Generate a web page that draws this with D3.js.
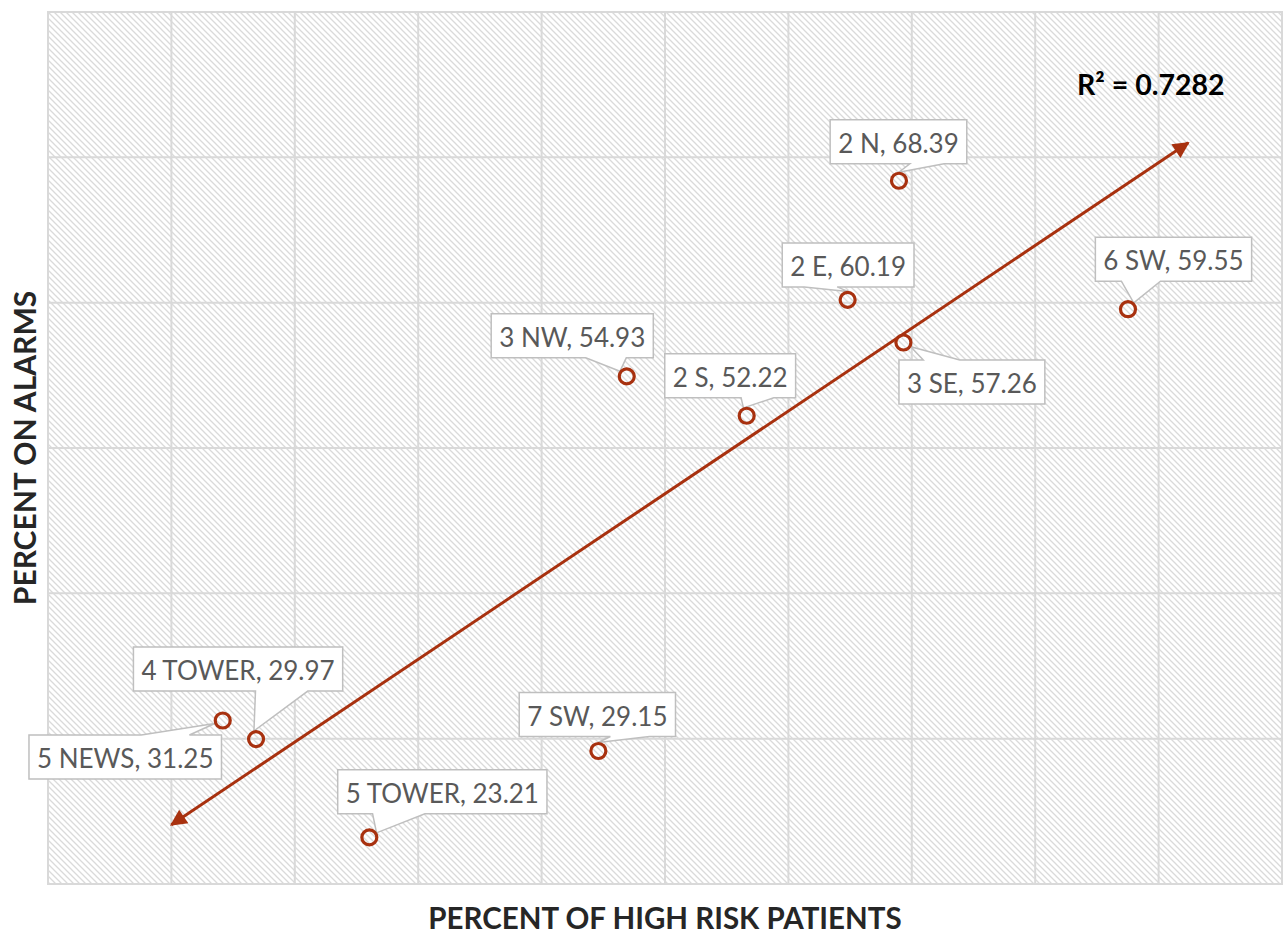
<!DOCTYPE html>
<html>
<head>
<meta charset="utf-8">
<script src="https://cdn.jsdelivr.net/npm/d3@7"></script>
<style>
  html, body { margin: 0; padding: 0; background: #ffffff; }
  svg { display: block; }
</style>
</head>
<body>
<svg id="chart" width="1283" height="934"></svg>
<script>
// Units and their measurements
const units = ["5 NEWS", "4 TOWER", "5 TOWER", "7 SW", "3 NW", "2 S", "2 E", "2 N", "3 SE", "6 SW"];
const highRiskPct = [7.08, 8.43, 13.02, 22.30, 23.45, 28.31, 32.40, 34.48, 34.66, 43.76];
const alarmPct = [31.25, 29.97, 23.21, 29.15, 54.93, 52.22, 60.19, 68.39, 57.26, 59.55];

// Axis ranges and gridline steps
const xDomain = [0, 50];
const xTicks = d3.range(0, 50.001, 5);
const yDomain = [20, 80];
const yTicks = d3.range(20, 80.001, 10);

// Trendline extent (with forecast backward/forward) and its reported fit
const trendRange = [5, 46.2];
const r2Label = "R\u00B2 = 0.7282";

const xTitle = "PERCENT OF HIGH RISK PATIENTS";
const yTitle = "PERCENT ON ALARMS";

// Callout placement: box-centre offset from its point, in pixels
const labelOffsets = [
  [-97.5, 36.5], [-18, -70], [73, -45.5], [-1, -36.5], [-54.5, -40.5],
  [-16.5, -40], [0.5, -35], [-0.5, -39], [68.5, 39.5], [45.5, -50]
];

const svg = d3.select("#chart");
const plot = { left: 48, top: 12, right: 1282, bottom: 884 };
const accent = "#a8310f";
const font = "Lato, 'Open Sans', sans-serif";

const x = d3.scaleLinear().domain(xDomain).range([plot.left, plot.right]);
const y = d3.scaleLinear().domain(yDomain).range([plot.bottom, plot.top]);

const defs = svg.append("defs");
const hatch = defs.append("pattern")
  .attr("id", "hatch").attr("patternUnits", "userSpaceOnUse")
  .attr("width", 6).attr("height", 6);
hatch.append("rect").attr("width", 6).attr("height", 6).attr("fill", "#ffffff");
hatch.append("path")
  .attr("d", "M0,0 L6,6 M-1,5 L1,7 M5,-1 L7,1")
  .attr("stroke", "#dadada").attr("stroke-width", 1.3);

defs.append("marker")
  .attr("id", "arrow")
  .attr("viewBox", "0 0 10 10")
  .attr("refX", 9).attr("refY", 5)
  .attr("markerWidth", 6.5).attr("markerHeight", 5.5)
  .attr("markerUnits", "strokeWidth")
  .attr("orient", "auto-start-reverse")
  .append("path")
  .attr("d", "M0,0 L10,5 L0,10 Z")
  .attr("fill", accent);

// Plot area background
svg.append("rect")
  .attr("x", plot.left).attr("y", plot.top)
  .attr("width", plot.right - plot.left).attr("height", plot.bottom - plot.top)
  .attr("fill", "url(#hatch)");

// Gridlines
const grid = svg.append("g").attr("stroke", "#d9d9d9").attr("stroke-width", 2);
grid.selectAll(".vx").data(xTicks).join("line")
  .attr("x1", d => x(d)).attr("x2", d => x(d))
  .attr("y1", plot.top).attr("y2", plot.bottom);
grid.selectAll(".hy").data(yTicks).join("line")
  .attr("y1", d => y(d)).attr("y2", d => y(d))
  .attr("x1", plot.left).attr("x2", plot.right);
svg.append("rect")
  .attr("x", plot.left).attr("y", plot.top)
  .attr("width", plot.right - plot.left).attr("height", plot.bottom - plot.top)
  .attr("fill", "none").attr("stroke", "#d9d9d9").attr("stroke-width", 2);

// Least-squares trendline
const n = units.length;
const mx = d3.mean(highRiskPct), my = d3.mean(alarmPct);
let sxy = 0, sxx = 0;
for (let i = 0; i < n; i++) {
  sxy += (highRiskPct[i] - mx) * (alarmPct[i] - my);
  sxx += (highRiskPct[i] - mx) ** 2;
}
const slope = sxy / sxx, intercept = my - slope * mx;
svg.append("line")
  .attr("x1", x(trendRange[0])).attr("y1", y(intercept + slope * trendRange[0]))
  .attr("x2", x(trendRange[1])).attr("y2", y(intercept + slope * trendRange[1]))
  .attr("stroke", accent).attr("stroke-width", 3)
  .attr("marker-start", "url(#arrow)")
  .attr("marker-end", "url(#arrow)");

// Wedge-shaped callout (rectangle with a pointer towards the tip)
function calloutPath(l, t, w, h, tx, ty) {
  const r = l + w, b = t + h, hc = l + w / 2, vc = t + h / 2;
  const dx = tx - hc, dy = ty - vc;
  const dz = Math.abs(dy) - Math.abs(dx * h / w);
  const x1 = l + w * (dx > 0 ? 7 : 2) / 12, x2 = l + w * (dx > 0 ? 10 : 5) / 12;
  const y1 = t + h * (dy > 0 ? 7 : 2) / 12, y2 = t + h * (dy > 0 ? 10 : 5) / 12;
  const p = d3.path();
  p.moveTo(l, t);
  if (dz > 0 && dy < 0) { p.lineTo(x1, t); p.lineTo(tx, ty); p.lineTo(x2, t); }
  p.lineTo(r, t);
  if (dz <= 0 && dx > 0) { p.lineTo(r, y1); p.lineTo(tx, ty); p.lineTo(r, y2); }
  p.lineTo(r, b);
  if (dz > 0 && dy > 0) { p.lineTo(x2, b); p.lineTo(tx, ty); p.lineTo(x1, b); }
  p.lineTo(l, b);
  if (dz <= 0 && dx < 0) { p.lineTo(l, y2); p.lineTo(tx, ty); p.lineTo(l, y1); }
  p.closePath();
  return p.toString();
}

const markerR = 7.5;
const labels = svg.append("g");
units.forEach((u, i) => {
  const px = x(highRiskPct[i]), py = y(alarmPct[i]);
  const cx = px + labelOffsets[i][0], cy = py + labelOffsets[i][1];
  const g = labels.append("g");
  const path = g.append("path");
  const txt = g.append("text")
    .attr("x", cx).attr("y", cy + 1)
    .attr("text-anchor", "middle").attr("dominant-baseline", "central")
    .attr("font-family", font)
    .attr("font-size", 26).attr("fill", "#595959")
    .text(u + ", " + alarmPct[i].toFixed(2));
  const tw = txt.node().getComputedTextLength();
  const w = tw + 16, h = 44;
  const l = cx - w / 2, t = cy - h / 2;
  const ang = Math.atan2(cy - py, cx - px);
  const tipX = px + (markerR + 1) * Math.cos(ang), tipY = py + (markerR + 1) * Math.sin(ang);
  path.attr("d", calloutPath(l, t, w, h, tipX, tipY))
    .attr("fill", "#ffffff").attr("stroke", "#bfbfbf").attr("stroke-width", 1.5);
});

// Data points
svg.append("g").selectAll("circle").data(units).join("circle")
  .attr("cx", (d, i) => x(highRiskPct[i]))
  .attr("cy", (d, i) => y(alarmPct[i]))
  .attr("r", markerR)
  .attr("fill", "none").attr("stroke", accent).attr("stroke-width", 3.2);

// R² annotation
svg.append("text")
  .attr("x", 1077).attr("y", 95)
  .attr("font-family", font)
  .attr("font-weight", "bold").attr("font-size", 28.5).attr("fill", "#000000")
  .text(r2Label);

// Axis titles
svg.append("text")
  .attr("x", 665).attr("y", 929)
  .attr("text-anchor", "middle")
  .attr("font-family", font)
  .attr("font-weight", "bold").attr("font-size", 29.5).attr("fill", "#262626")
  .text(xTitle);
svg.append("text")
  .attr("transform", `translate(36, 448) rotate(-90)`)
  .attr("text-anchor", "middle")
  .attr("font-family", font)
  .attr("font-weight", "bold").attr("font-size", 30).attr("fill", "#262626")
  .text(yTitle);
</script>
</body>
</html>
